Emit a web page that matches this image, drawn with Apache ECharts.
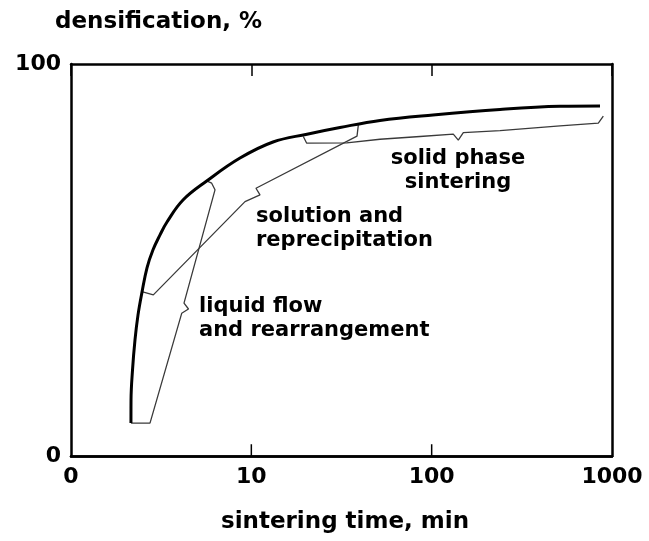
<!DOCTYPE html>
<html>
<head>
<meta charset="utf-8">
<script src="https://cdn.jsdelivr.net/npm/echarts@6/dist/echarts.min.js"></script>
<style>
html,body{margin:0;padding:0;background:#fff;}
#chart{width:649px;height:541px;}
</style>
</head>
<body>
<div id="chart"></div>
<script>
// sintering time (min) and densification (%)
var thickTime = [2.15, 2.152, 2.193, 2.264, 2.353, 2.476, 2.639, 2.85, 3.116, 3.407, 4.179, 5.678, 8.653, 13.19, 20.36, 31.02, 51.7, 101.7, 239.3, 515, 858];
var thickDens = [8.4, 14.3, 21.9, 29.6, 36.0, 41.8, 48.0, 52.6, 56.4, 59.7, 65.3, 70.2, 76.0, 80.1, 82.1, 83.8, 85.6, 87.0, 88.4, 89.2, 89.3];

var liquidTime = [2.152, 2.742, 4.110, 4.483, 4.233, 6.288, 6.028, 5.656];
var liquidDens = [8.4, 8.4, 36.4, 37.5, 39.0, 67.9, 69.6, 70.2];

var solutionTime = [2.498, 2.861, 9.224, 11.17, 10.61, 38.55, 39.2];
var solutionDens = [41.9, 41.1, 64.9, 66.6, 68.3, 81.6, 84.4];

var solidTime = [19.42, 20.28, 33.8, 51.7, 86.17, 131.8, 140.5, 149.8, 239.3, 515, 839.7, 895];
var solidDens = [81.5, 79.8, 79.9, 80.8, 81.5, 82.1, 80.6, 82.5, 83.0, 84.2, 84.9, 86.7];

// tick labels for the decades 10^0 .. 10^3 minutes
var xTickLabels = ['0', '10', '100', '1000'];
var innerTickTimes = [10, 100];
var innerTickSpan = [0, 3];   // densification span of a bottom inner tick
var yTickLabels = {0: '0', 100: '100'};

var yTitle = 'densification, %';
var xTitle = 'sintering time, min';
var notes = [
  {text: 'solid phase\nsintering', align: 'center'},
  {text: 'solution and\nreprecipitation', align: 'left'},
  {text: 'liquid flow\nand rearrangement', align: 'left'}
];

function pairs(xs, ys) { return xs.map(function (x, i) { return [x, ys[i]]; }); }

var FONT = 'DejaVu Sans';
var chart = echarts.init(document.getElementById('chart'), null, {renderer: 'canvas'});
var thinStyle = {color: '#3a3a3a', width: 1.3};
var rect = {left: 71, right: 37, top: 64, bottom: 85};

function frameAxis(pos, gridIndex, showLabels, showTicks) {
  return {
    type: 'value', gridIndex: gridIndex, min: 0, max: 3, interval: 1, position: pos,
    axisLine: {show: true, onZero: false, lineStyle: {color: '#000', width: 2.5}},
    axisTick: {show: showTicks, inside: true, length: 12, lineStyle: {color: '#000', width: 1.5}},
    splitLine: {show: false},
    axisLabel: {
      show: showLabels,
      color: '#000', fontFamily: FONT, fontWeight: 'bold', fontSize: 22, margin: 10,
      formatter: function (v) { return xTickLabels[Math.round(v)]; }
    }
  };
}

var series = [
  {type: 'line', xAxisIndex: 3, yAxisIndex: 0, data: pairs(thickTime, thickDens), showSymbol: false, smooth: 0.4,
    lineStyle: {color: '#000', width: 3}, z: 5},
  {type: 'line', xAxisIndex: 3, yAxisIndex: 0, data: pairs(liquidTime, liquidDens), showSymbol: false, lineStyle: thinStyle},
  {type: 'line', xAxisIndex: 3, yAxisIndex: 0, data: pairs(solutionTime, solutionDens), showSymbol: false, lineStyle: thinStyle},
  {type: 'line', xAxisIndex: 3, yAxisIndex: 0, data: pairs(solidTime, solidDens), showSymbol: false, lineStyle: thinStyle}
];
// bottom inner tick marks at the decades, drawn through the data scales
innerTickTimes.forEach(function (t) {
  series.push({type: 'line', xAxisIndex: 3, yAxisIndex: 0, silent: true, showSymbol: false, clip: false,
    data: [[t, innerTickSpan[0]], [t, innerTickSpan[1]]],
    lineStyle: {color: '#000', width: 1.5}, z: 6});
});

chart.setOption({
  animation: false,
  backgroundColor: '#ffffff',
  grid: [rect, rect],
  xAxis: [
    frameAxis('bottom', 0, true, false),   // decade labels
    frameAxis('bottom', 1, false, false),
    frameAxis('top', 1, false, true),      // top frame with inner ticks
    // log time axis used by the data series (same span: 1 .. 1000 min)
    {type: 'log', gridIndex: 0, logBase: 10, min: 1, max: 1000, show: false}
  ],
  yAxis: [{
    type: 'value', gridIndex: 0, min: 0, max: 100, interval: 100, position: 'left',
    axisLine: {show: true, onZero: false, lineStyle: {color: '#000', width: 2.5}},
    axisTick: {show: false},
    splitLine: {show: false},
    axisLabel: {
      color: '#000', fontFamily: FONT, fontWeight: 'bold', fontSize: 22, margin: 10,
      formatter: function (v) { return yTickLabels[v] || ''; }
    }
  }, {
    type: 'value', gridIndex: 1, min: 0, max: 100, interval: 100, position: 'right',
    axisLine: {show: true, onZero: false, lineStyle: {color: '#000', width: 2.5}},
    axisTick: {show: false}, splitLine: {show: false}, axisLabel: {show: false}
  }],
  series: series,
  graphic: [
    {type: 'text', left: 55, top: 11, style: {text: yTitle, fill: '#000', font: 'bold 23px "' + FONT + '"'}},
    {type: 'text', x: 345, y: 522, style: {text: xTitle, fill: '#000', font: 'bold 23px "' + FONT + '"', textAlign: 'center', textVerticalAlign: 'middle'}},
    {type: 'text', x: 458, y: 171, style: {text: notes[0].text, fill: '#000', font: 'bold 21px "' + FONT + '"', textAlign: 'center', textVerticalAlign: 'middle', lineHeight: 24}},
    {type: 'text', x: 256, y: 229, style: {text: notes[1].text, fill: '#000', font: 'bold 21px "' + FONT + '"', textAlign: 'left', textVerticalAlign: 'middle', lineHeight: 24}},
    {type: 'text', x: 199, y: 319, style: {text: notes[2].text, fill: '#000', font: 'bold 21px "' + FONT + '"', textAlign: 'left', textVerticalAlign: 'middle', lineHeight: 24}}
  ]
});
</script>
</body>
</html>
